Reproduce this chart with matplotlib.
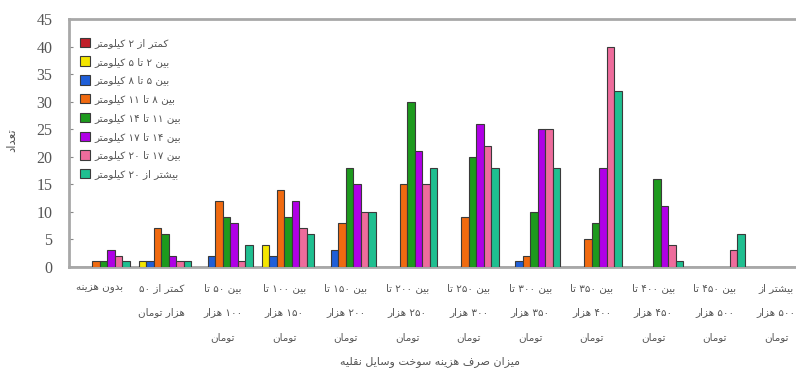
import matplotlib
matplotlib.use("Agg")
import matplotlib.pyplot as plt
import matplotlib.transforms as mtransforms
import numpy as np

# ---------------------------------------------------------------- data
categories = [
    "بدون هزینه",
    "کمتر از ۵۰\nهزار تومان",
    "بین ۵۰ تا\n۱۰۰ هزار\nتومان",
    "بین ۱۰۰ تا\n۱۵۰ هزار\nتومان",
    "بین ۱۵۰ تا\n۲۰۰ هزار\nتومان",
    "بین ۲۰۰ تا\n۲۵۰ هزار\nتومان",
    "بین ۲۵۰ تا\n۳۰۰ هزار\nتومان",
    "بین ۳۰۰ تا\n۳۵۰ هزار\nتومان",
    "بین ۳۵۰ تا\n۴۰۰ هزار\nتومان",
    "بین ۴۰۰ تا\n۴۵۰ هزار\nتومان",
    "بین ۴۵۰ تا\n۵۰۰ هزار\nتومان",
    "بیشتر از\n۵۰۰ هزار\nتومان",
]

series_names = [
    "کمتر از ۲ کیلومتر",
    "بین ۲ تا ۵ کیلومتر",
    "بین ۵ تا ۸ کیلومتر",
    "بین ۸ تا ۱۱ کیلومتر",
    "بین ۱۱ تا ۱۴ کیلومتر",
    "بین ۱۴ تا ۱۷ کیلومتر",
    "بین ۱۷ تا ۲۰ کیلومتر",
    "بیشتر از ۲۰ کیلومتر",
]

under_2km = [0, 0, 0, 0, 0, 0, 0, 0, 0, 0, 0, 0]
km_2_5 = [0, 1, 0, 4, 0, 0, 0, 0, 0, 0, 0, 0]
km_5_8 = [0, 1, 2, 2, 3, 0, 0, 1, 0, 0, 0, 0]
km_8_11 = [1, 7, 12, 14, 8, 15, 9, 2, 5, 0, 0, 0]
km_11_14 = [1, 6, 9, 9, 18, 30, 20, 10, 8, 16, 0, 0]
km_14_17 = [3, 2, 8, 12, 15, 21, 26, 25, 18, 11, 0, 0]
km_17_20 = [2, 1, 1, 7, 10, 15, 22, 25, 40, 4, 3, 0]
over_20km = [1, 1, 4, 6, 10, 18, 18, 18, 32, 1, 6, 0]

y_ticks = [0, 5, 10, 15, 20, 25, 30, 35, 40, 45]
x_title = "میزان صرف هزینه سوخت وسایل نقلیه"
y_title = "تعداد"

series_values = [under_2km, km_2_5, km_5_8, km_8_11,
                 km_11_14, km_14_17, km_17_20, over_20km]
colors = ["#c0202a", "#f4e600", "#1f5fd8", "#f06a10",
          "#1d9a1d", "#b000e6", "#ee6c9c", "#1fbf90"]

# ------------------------------------------------ Persian text shaping
# (isolated, final, initial, medial) presentation forms
FORMS = {
    "ا": ("\uFE8D", "\uFE8E"), "د": ("\uFEA9", "\uFEAA"),
    "ر": ("\uFEAD", "\uFEAE"), "ز": ("\uFEAF", "\uFEB0"),
    "و": ("\uFEED", "\uFEEE"),
    "ب": ("\uFE8F", "\uFE90", "\uFE91", "\uFE92"),
    "ت": ("\uFE95", "\uFE96", "\uFE97", "\uFE98"),
    "خ": ("\uFEA5", "\uFEA6", "\uFEA7", "\uFEA8"),
    "س": ("\uFEB1", "\uFEB2", "\uFEB3", "\uFEB4"),
    "ش": ("\uFEB5", "\uFEB6", "\uFEB7", "\uFEB8"),
    "ص": ("\uFEB9", "\uFEBA", "\uFEBB", "\uFEBC"),
    "ع": ("\uFEC9", "\uFECA", "\uFECB", "\uFECC"),
    "ف": ("\uFED1", "\uFED2", "\uFED3", "\uFED4"),
    "ق": ("\uFED5", "\uFED6", "\uFED7", "\uFED8"),
    "ل": ("\uFEDD", "\uFEDE", "\uFEDF", "\uFEE0"),
    "م": ("\uFEE1", "\uFEE2", "\uFEE3", "\uFEE4"),
    "ن": ("\uFEE5", "\uFEE6", "\uFEE7", "\uFEE8"),
    "ه": ("\uFEE9", "\uFEEA", "\uFEEB", "\uFEEC"),
    "ک": ("\uFB8E", "\uFB8F", "\uFB90", "\uFB91"),
    "ی": ("\uFBFC", "\uFBFD", "\uFBFE", "\uFBFF"),
}
DUAL = {c for c, f in FORMS.items() if len(f) == 4}
DIGITS = set("0123456789۰۱۲۳۴۵۶۷۸۹")


def shape_line(line):
    out = []
    for i, c in enumerate(line):
        if c not in FORMS:
            out.append(c)
            continue
        prev = line[i - 1] if i > 0 else ""
        nxt = line[i + 1] if i + 1 < len(line) else ""
        jp = prev in DUAL
        jn = c in DUAL and nxt in FORMS
        f = FORMS[c]
        if jp and jn:
            out.append(f[3])
        elif jp:
            out.append(f[1])
        elif jn:
            out.append(f[2])
        else:
            out.append(f[0])
    vis = "".join(out)[::-1]
    # keep numbers left-to-right
    res, run = [], []
    for ch in vis:
        if ch in DIGITS:
            run.append(ch)
        else:
            res.extend(run[::-1])
            run = []
            res.append(ch)
    res.extend(run[::-1])
    return "".join(res)


def fa(text):
    return "\n".join(shape_line(l) for l in text.split("\n"))


# ---------------------------------------------------------------- figure
W, H = 796, 373
fig = plt.figure(figsize=(W / 100, H / 100), dpi=100)
ax = fig.add_axes([69 / W, (H - 267) / H, 738 / W, 248 / H])

n = len(series_values)
bw = 7.5 / 61.5
x = np.arange(len(categories))
for k, (vals, col, name) in enumerate(zip(series_values, colors, series_names)):
    ax.bar(x + (k - (n - 1) / 2) * bw, vals, width=bw, color=col,
           edgecolor="#3a3a3a", linewidth=0.8, label=fa(name), zorder=3)

ax.set_xlim(-0.5, len(categories) - 0.5)
ax.set_ylim(0, 45)
ax.set_yticks(y_ticks)
ax.set_yticklabels([str(t) for t in y_ticks], family="Liberation Serif",
                   fontsize=11.5, color="#555555")
ax.tick_params(axis="y", direction="in", length=3, color="#888888", pad=12)
ax.set_xticks([])

for side in ("left", "bottom", "top", "right"):
    ax.spines[side].set_color("#a8a8a8")
    ax.spines[side].set_linewidth(2)

# category labels, one row at a time
trans = mtransforms.blended_transform_factory(ax.transData, fig.transFigure)
row_y = [288, 312, 337]
for xi, cat in zip(x, categories):
    for j, line in enumerate(cat.split("\n")):
        ax.text(xi, 1 - row_y[j] / H, fa(line), transform=trans,
                ha="center", va="center", fontsize=7.5, color="#555555",
                family="DejaVu Sans", clip_on=False)

fig.text(0.54, 1 - 362 / H, fa(x_title), ha="center", va="center",
         fontsize=8, color="#555555", family="DejaVu Sans")
fig.text(12 / W, 1 - 140 / H, fa(y_title), ha="center", va="center",
         rotation=90, fontsize=8.5, color="#555555", family="DejaVu Sans")

leg = ax.legend(loc="upper left", bbox_to_anchor=(0.006, 0.95),
                frameon=False, fontsize=7.5, handlelength=1.0,
                handleheight=1.0, handletextpad=0.4, labelspacing=0.82,
                borderaxespad=0.2)
for t in leg.get_texts():
    t.set_color("#555555")
    t.set_family("DejaVu Sans")

fig.savefig("out.png", dpi=100)
